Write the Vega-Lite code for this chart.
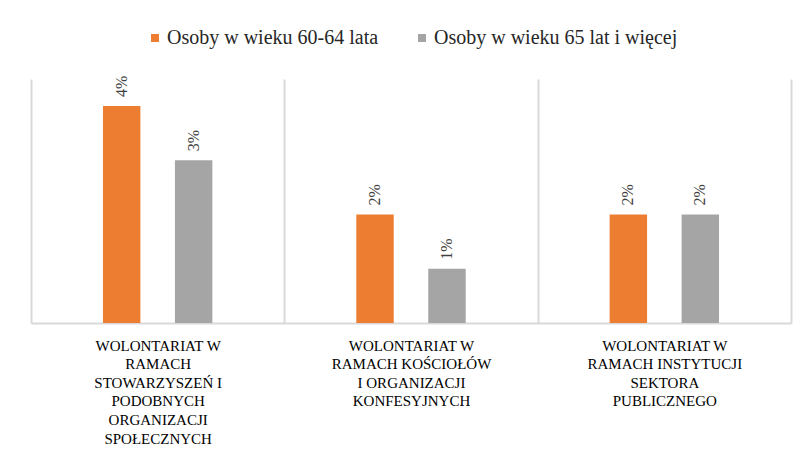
{
  "$schema": "https://vega.github.io/schema/vega-lite/v6.json",
  "width": 760,
  "height": 244,
  "autosize": {"type": "none"},
  "padding": {"left": 31, "top": 79, "right": 14, "bottom": 133},
  "background": "white",
  "config": {"view": {"stroke": null}, "font": "Liberation Serif"},
  "data": {
    "values": [
      {"kategoria": "WOLONTARIAT W|RAMACH|STOWARZYSZEŃ I|PODOBNYCH|ORGANIZACJI|SPOŁECZNYCH", "grupa": "Osoby w wieku 60-64 lata", "wartosc": 0.04},
      {"kategoria": "WOLONTARIAT W|RAMACH|STOWARZYSZEŃ I|PODOBNYCH|ORGANIZACJI|SPOŁECZNYCH", "grupa": "Osoby w wieku 65 lat i więcej", "wartosc": 0.03},
      {"kategoria": "WOLONTARIAT W|RAMACH  KOŚCIOŁÓW|I ORGANIZACJI|KONFESYJNYCH", "grupa": "Osoby w wieku 60-64 lata", "wartosc": 0.02},
      {"kategoria": "WOLONTARIAT W|RAMACH  KOŚCIOŁÓW|I ORGANIZACJI|KONFESYJNYCH", "grupa": "Osoby w wieku 65 lat i więcej", "wartosc": 0.01},
      {"kategoria": "WOLONTARIAT W|RAMACH INSTYTUCJI|SEKTORA|PUBLICZNEGO", "grupa": "Osoby w wieku 60-64 lata", "wartosc": 0.02},
      {"kategoria": "WOLONTARIAT W|RAMACH INSTYTUCJI|SEKTORA|PUBLICZNEGO", "grupa": "Osoby w wieku 65 lat i więcej", "wartosc": 0.02}
    ]
  },
  "encoding": {
    "x": {
      "field": "kategoria",
      "type": "nominal",
      "sort": null,
      "scale": {"paddingInner": 0, "paddingOuter": 0},
      "axis": {
        "title": null,
        "tickBand": "extent",
        "grid": true,
        "gridColor": "#d9d9d9",
        "gridWidth": 2,
        "ticks": false,
        "domain": true,
        "domainColor": "#d9d9d9",
        "domainWidth": 2,
        "labelAngle": 0,
        "labelFont": "Liberation Serif",
        "labelFontSize": 15,
        "labelColor": "#000000",
        "labelPadding": 15,
        "labelLineHeight": 18.6,
        "labelBaseline": "top",
        "labelExpr": "split(datum.label, '|')",
        "labelLimit": 300,
        "labelOverlap": false
      }
    },
    "xOffset": {"field": "grupa", "sort": null, "scale": {"paddingInner": 0.48, "paddingOuter": 1.2}},
    "y": {
      "field": "wartosc",
      "type": "quantitative",
      "scale": {"domain": [0, 0.045], "nice": false},
      "axis": null
    }
  },
  "layer": [
    {
      "mark": {"type": "bar"},
      "encoding": {
        "color": {
          "field": "grupa",
          "type": "nominal",
          "sort": null,
          "scale": {"range": ["#ED7D31", "#A5A5A5"]},
          "legend": {
            "orient": "none",
            "legendX": 114,
            "legendY": -51,
            "direction": "horizontal",
            "title": null,
            "symbolType": "square",
            "symbolSize": 64,
            "symbolStrokeWidth": 0,
            "labelFont": "Liberation Serif",
            "labelFontSize": 20,
            "labelColor": "#262626",
            "labelOffset": 2,
            "columnPadding": 33,
            "labelLimit": 400
          }
        }
      }
    },
    {
      "mark": {"type": "text", "angle": 270, "align": "left", "baseline": "middle", "dx": 9, "font": "Liberation Serif", "fontSize": 16, "color": "#404040"},
      "encoding": {"text": {"field": "wartosc", "type": "quantitative", "format": ".0%"}}
    }
  ]
}
